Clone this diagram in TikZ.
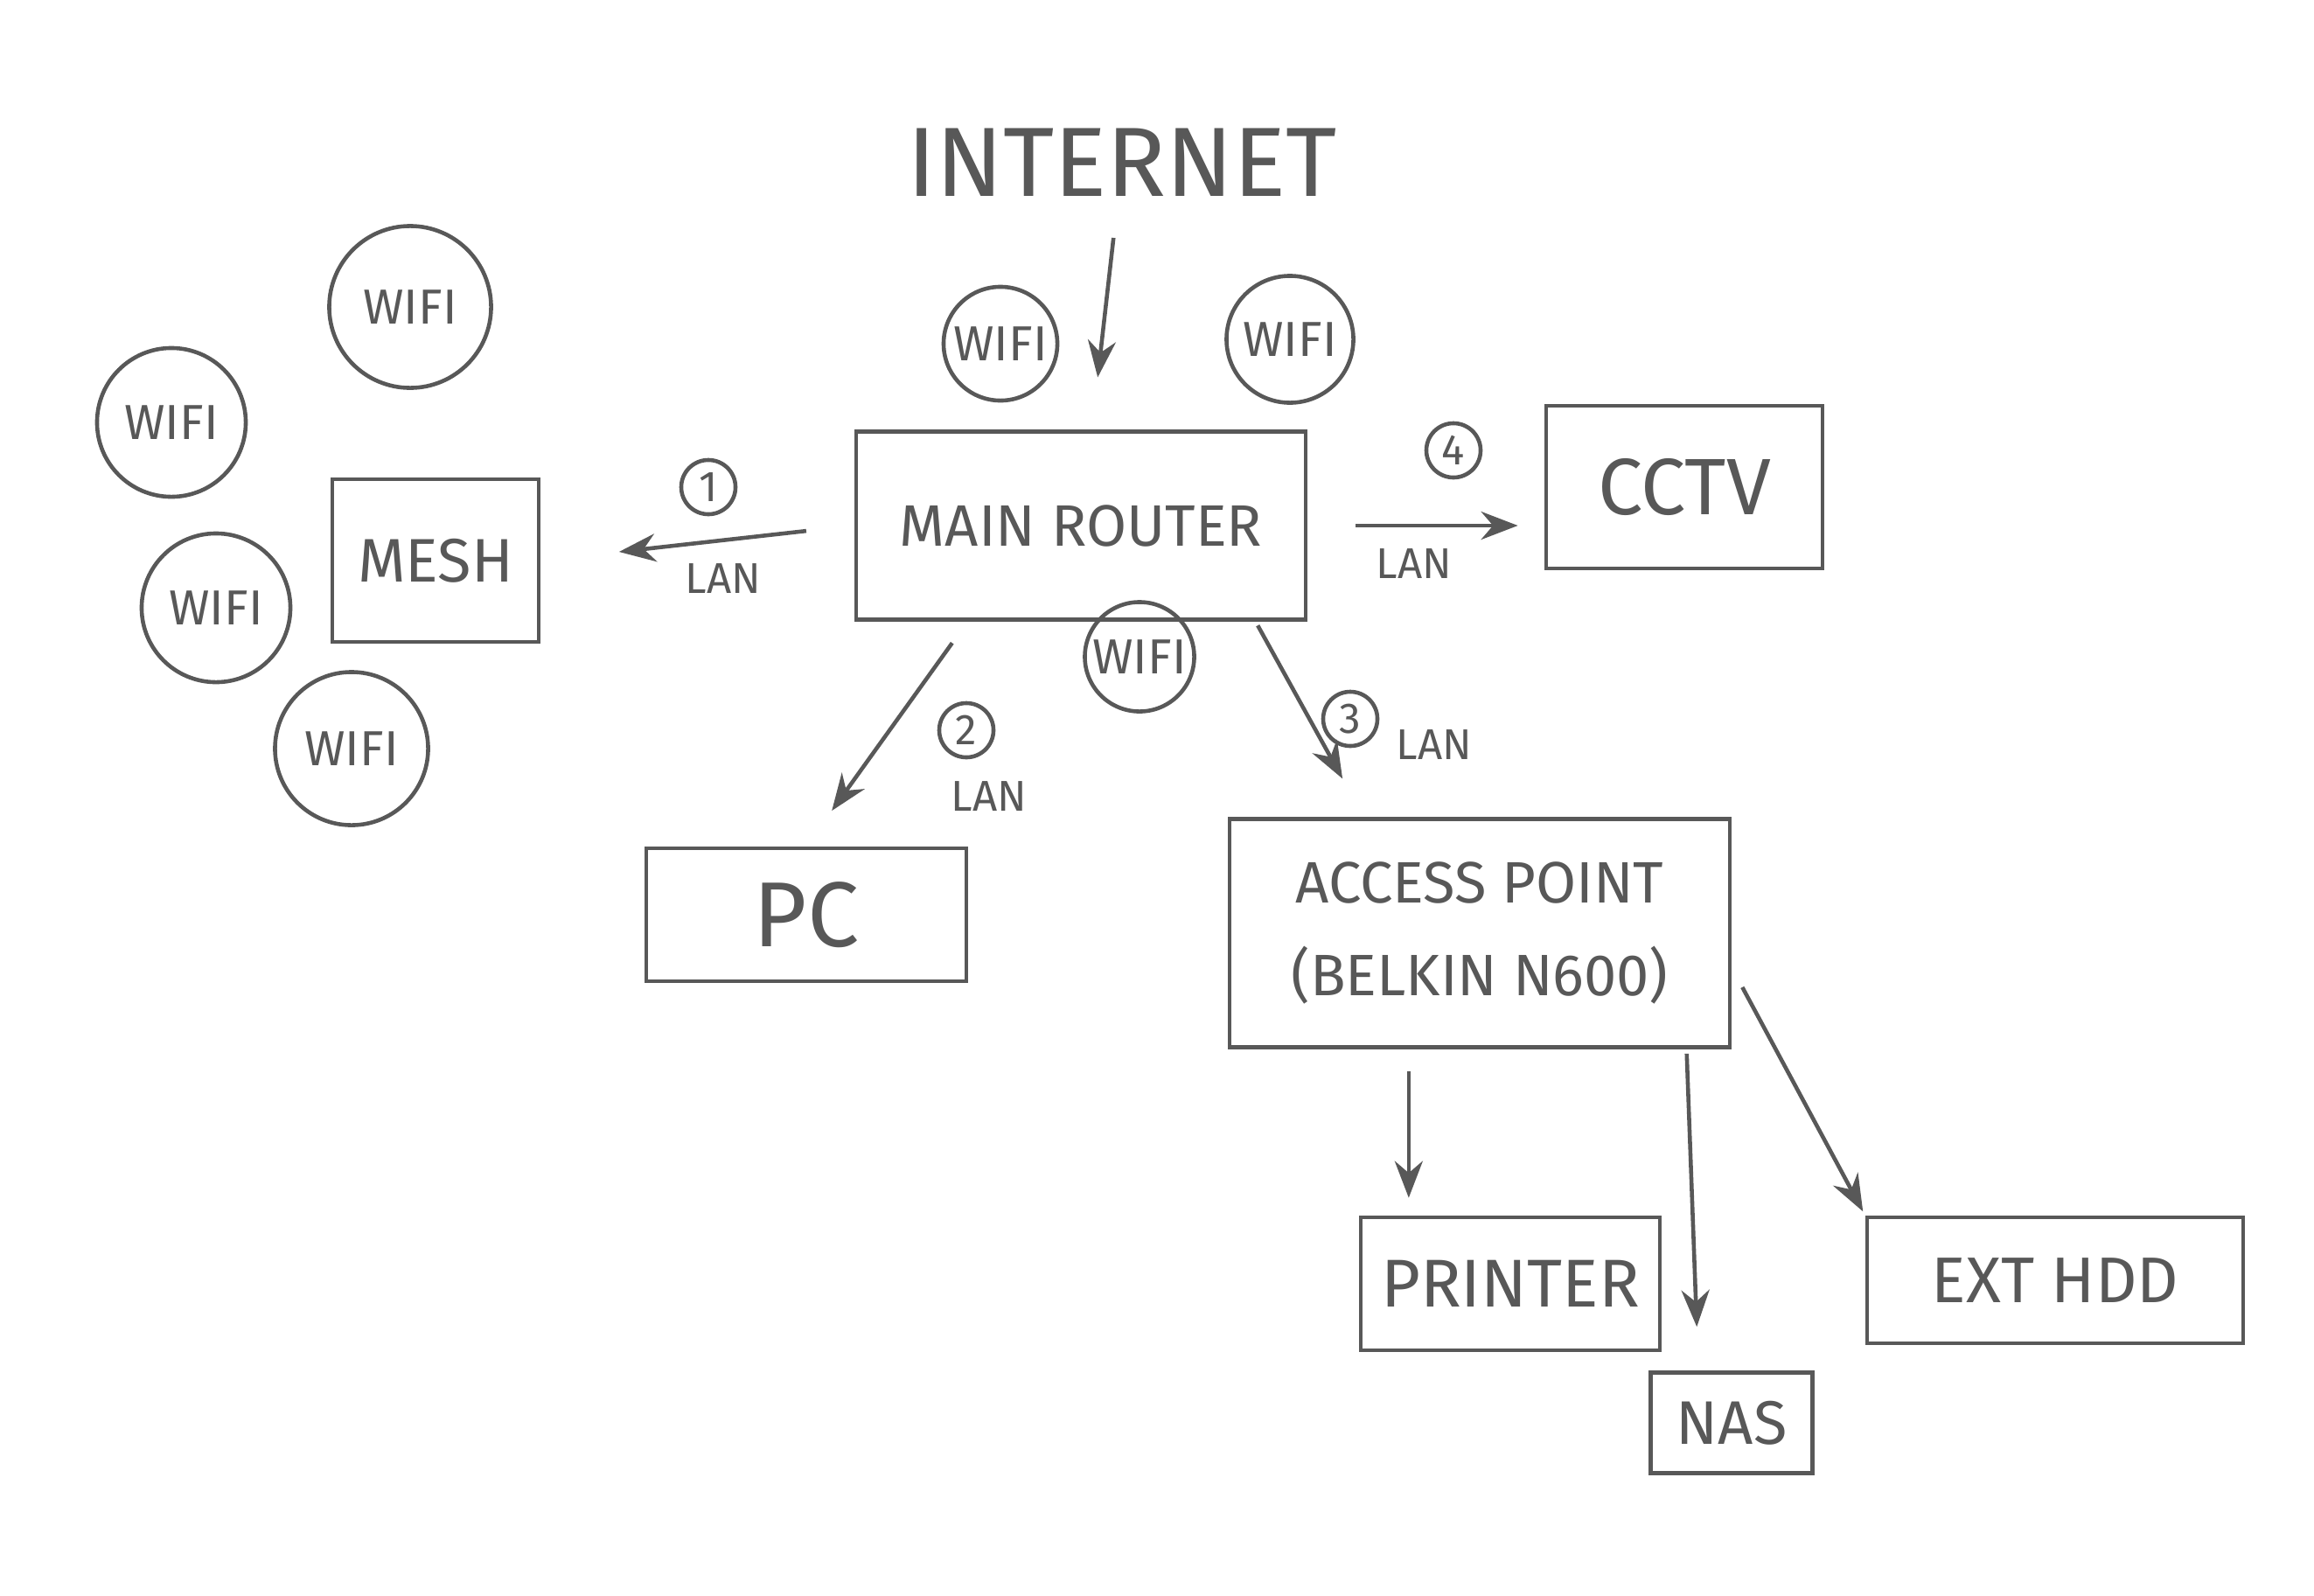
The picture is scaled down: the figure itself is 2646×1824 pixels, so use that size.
\documentclass[tikz,border=0pt]{standalone}
\usepackage{fontspec}
\setmainfont{Fira Sans}
\usetikzlibrary{arrows.meta,calc}
\definecolor{pencil}{RGB}{88,88,88}
\tikzset{
  pen/.style={draw=pencil,line width=1.3pt},
  devbox/.style={pen,rectangle,align=center,text=pencil,font=\fontsize{20}{26}\selectfont},
  wifi/.style={pen,circle,inner sep=0pt,text=pencil,font=\fontsize{16}{19}\selectfont},
  num/.style={pen,circle,inner sep=0pt,minimum size=0.62cm,text=pencil,font=\fontsize{14}{16}\selectfont},
  lan/.style={text=pencil,inner sep=1pt,font=\fontsize{14}{16}\selectfont},
  link/.style={pen,-{Stealth[length=0.42cm,width=0.32cm]}},
}
\begin{document}
\begin{tikzpicture}[x=0.01cm,y=-0.01cm]
\useasboundingbox[fill=white] (0,0) rectangle (2646,1824);

% top
\node[text=pencil,font=\fontsize{32}{36}\selectfont] (internet) at (1283,186) {INTERNET};
\node[devbox,minimum width=5.14cm,minimum height=2.15cm,font=\fontsize{19}{22}\selectfont] (router) at (1236,601) {MAIN ROUTER};
\node[wifi,minimum size=1.3cm] (w1) at (1144,393) {WIFI};
\node[wifi,minimum size=1.45cm] (w2) at (1475,388) {WIFI};
\node[wifi,minimum size=1.25cm] (w3) at (1303,751) {WIFI};

% mesh side
\node[devbox,minimum width=2.36cm,minimum height=1.86cm,font=\fontsize{20}{24}\selectfont] (mesh) at (498,641) {MESH};
\node[wifi,minimum size=1.85cm] (w4) at (469,351) {WIFI};
\node[wifi,minimum size=1.7cm] (w5) at (196,483) {WIFI};
\node[wifi,minimum size=1.7cm] (w6) at (247,695) {WIFI};
\node[wifi,minimum size=1.75cm] (w7) at (402,856) {WIFI};

% other devices
\node[devbox,minimum width=3.16cm,minimum height=1.86cm,font=\fontsize{26}{30}\selectfont] (cctv) at (1926,557) {CCTV};
\node[devbox,minimum width=3.66cm,minimum height=1.52cm,font=\fontsize{30}{34}\selectfont] (pc) at (922,1046) {PC};
\node[devbox,minimum width=5.72cm,minimum height=2.61cm,font=\fontsize{19}{30}\selectfont] (ap) at (1692,1067) {ACCESS POINT\\(BELKIN N600)};
\node[devbox,minimum width=3.42cm,minimum height=1.52cm,font=\fontsize{22}{26}\selectfont] (printer) at (1727,1468) {PRINTER};
\node[devbox,minimum width=1.85cm,minimum height=1.15cm,font=\fontsize{20}{24}\selectfont] (nas) at (1980,1627) {NAS};
\node[devbox,minimum width=4.30cm,minimum height=1.44cm,font=\fontsize{21}{25}\selectfont] (hdd) at (2350,1464) {EXT HDD};

% connectors
\draw[link,shorten <=0.35cm,shorten >=0.6cm] (internet) -- (router);
\draw[link,shorten <=0.55cm,shorten >=0.9cm] (router.west) -- (mesh.east);
\draw[link,shorten <=0.55cm,shorten >=0.3cm] (router.east) -- (router.east -| cctv.west);
\draw[link,shorten <=0.3cm,shorten >=0.5cm] ($(router.south west)!0.25!(router.south east)$) -- (pc.north);
\draw[link,shorten <=0.05cm,shorten >=0.5cm] ($(router.south west)!0.885!(router.south east)$) -- ($(ap.north west)!0.27!(ap.north east)$);
\coordinate (prtop) at ($(printer.north west)!0.165!(printer.north east)$);
\draw[link,shorten <=0.25cm,shorten >=0.2cm] (ap.south -| prtop) -- (prtop);
\draw[link,shorten <=0.05cm,shorten >=0.5cm] ($(ap.south west)!0.91!(ap.south east)$) -- ($(nas.north west)!0.3!(nas.north east)$);
\draw[link,shorten <=0.25cm,shorten >=0.05cm] ($(ap.north east)!0.65!(ap.south east)$) -- (hdd.north west);

% link labels
\node[num] (n1) at (810,557) {1};
\node[lan] (l1) at (827,662) {LAN};
\node[num] (n4) at (1662,515) {4};
\node[lan] (l4) at (1617,645) {LAN};
\node[num] (n2) at (1105,835) {2};
\node[lan] (l2) at (1131,911) {LAN};
\node[num] (n3) at (1544,822) {3};
\node[lan] (l3) at (1640,852) {LAN};
\end{tikzpicture}
\end{document}
